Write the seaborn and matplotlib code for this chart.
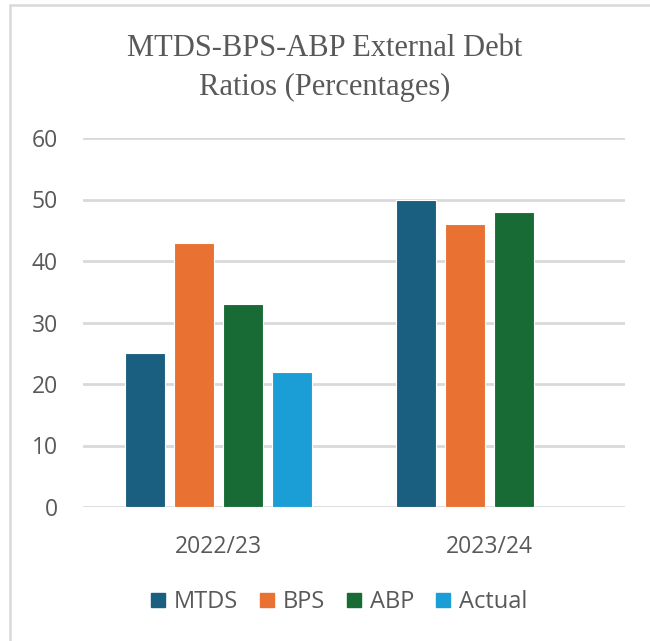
import matplotlib
matplotlib.use("Agg")
import matplotlib.pyplot as plt
from matplotlib.lines import Line2D
import pandas as pd
import seaborn as sns

# %% data
periods = ["2022/23", "2023/24"]
series = ["MTDS", "BPS", "ABP", "Actual"]
mtds = [25, 50]
bps = [43, 46]
abp = [33, 48]
actual = [22, None]

colors = ["#1a5f80", "#e97132", "#196b36", "#1a9ed5"]
text_grey = "#595959"

df = pd.DataFrame({
    "period": periods * 4,
    "series": [s for s in series for _ in periods],
    "value": mtds + bps + abp + actual,
})

# %% plot
sns.set_style("white")
plt.rcParams["font.family"] = ["Open Sans", "DejaVu Sans"]

fig = plt.figure(figsize=(6.5, 6.41), dpi=100)
ax = fig.add_axes([83 / 650, 1 - 507 / 641, 542 / 650, 369 / 641])

sns.barplot(df, x="period", y="value", hue="series", hue_order=series,
            palette=colors, saturation=1, width=0.723, gap=0.2, ax=ax,
            legend=False, linewidth=0.8, edgecolor="white", zorder=3)

ax.set_ylim(0, 60)
ax.set_xlim(-0.5, 1.5)
ax.set_yticks(range(0, 61, 10))
ax.grid(axis="y", color="#d9d9d9", linewidth=2, zorder=0)
sns.despine(ax=ax, left=True, bottom=True)
ax.set_xlabel("")
ax.set_ylabel("")
ax.tick_params(axis="both", length=0, labelsize=16.5, colors=text_grey)
ax.tick_params(axis="y", pad=18)
ax.tick_params(axis="x", pad=20)

fig.text(0.5, 1 - 68 / 641, "MTDS-BPS-ABP External Debt\nRatios (Percentages)",
         ha="center", va="center", fontsize=22, color=text_grey,
         family="Liberation Serif", linespacing=1.45)

handles = [Line2D([], [], marker="s", linestyle="", markersize=10.5,
                  color=c) for c in colors]
fig.legend(handles, series, loc="center", bbox_to_anchor=(0.518, 1 - 602 / 641),
           ncol=4, frameon=False, fontsize=17, labelcolor=text_grey,
           handletextpad=0.15, columnspacing=0.75, handlelength=1.0)

# light frame at top/left like the cropped chart box
fig.add_artist(Line2D([10 / 650, 10 / 650], [0, 1 - 5 / 641],
                      color="#d9d9d9", linewidth=1.8, transform=fig.transFigure))
fig.add_artist(Line2D([10 / 650, 1], [1 - 5 / 641, 1 - 5 / 641],
                      color="#d9d9d9", linewidth=1.8, transform=fig.transFigure))

fig.savefig("out.png", dpi=100)
